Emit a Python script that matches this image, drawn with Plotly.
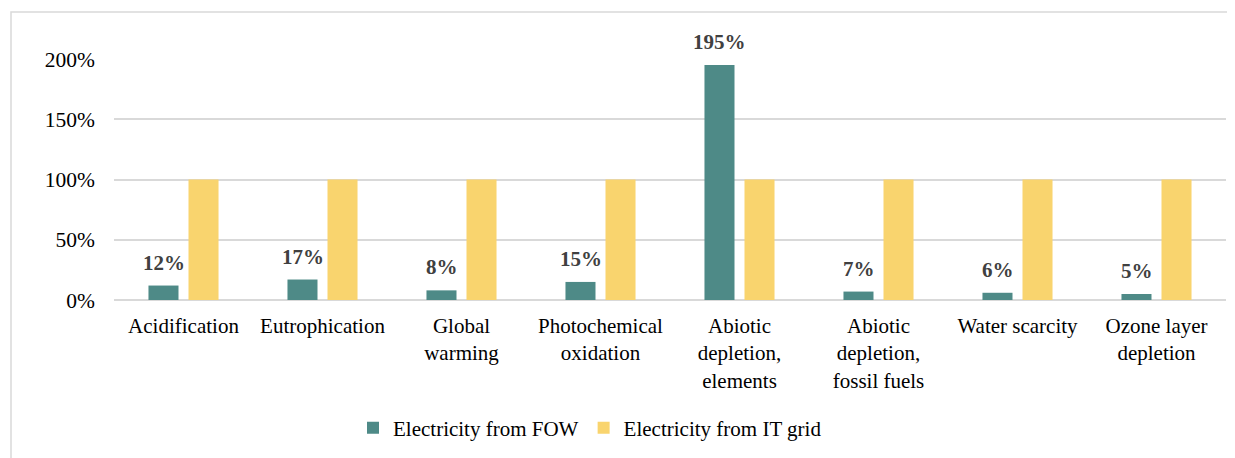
import plotly.graph_objects as go

categories = ["Acidification", "Eutrophication", "Global<br>warming", "Photochemical<br>oxidation",
              "Abiotic<br>depletion,<br>elements", "Abiotic<br>depletion,<br>fossil fuels",
              "Water scarcity", "Ozone layer<br>depletion"]
fow_values = [12, 17, 8, 15, 195, 7, 6, 5]
grid_values = [100, 100, 100, 100, 100, 100, 100, 100]
series_names = ["Electricity from FOW", "Electricity from IT grid"]
y_ticks = [0, 50, 100, 150, 200]

TEAL = "#4E8A87"
YELLOW = "#F9D46E"
FONT = "Liberation Serif"

fig = go.Figure()
fig.add_trace(go.Bar(x=categories, y=fow_values, name=series_names[0],
                     marker=dict(color=TEAL, line=dict(width=0))))
fig.add_trace(go.Bar(x=categories, y=grid_values, name=series_names[1],
                     marker=dict(color=YELLOW, line=dict(width=0))))

for c, v in zip(categories, fow_values):
    fig.add_annotation(x=c, y=v, xref="x", yref="y", text=f"<b>{v}%</b>",
                       showarrow=False, yanchor="bottom", xshift=-20, yshift=9,
                       font=dict(family=FONT, size=21, color="#404040"))

# the page body has an 8px margin, so the figure starts at (8, 8) in the window
OFF = 8
W, H = 1235 - OFF, 458 - OFF
L, T = 114 - OFF, 59 - OFF
R = W - (1226 - OFF)
B = H - (300 - OFF)
pw, ph = W - L - R, H - T - B

def px_x(p):
    return (p - OFF - L) / pw

def px_y(p):
    return (300 - p) / ph

fig.add_shape(type="rect", xref="paper", yref="paper",
              x0=px_x(11), x1=px_x(1245), y0=px_y(470), y1=px_y(12),
              line=dict(color="#D9D9D9", width=1.5), fillcolor="rgba(0,0,0,0)", layer="below")

fig.update_layout(
    width=W, height=H,
    margin=dict(l=L, r=R, t=T, b=B, autoexpand=False),
    paper_bgcolor="white", plot_bgcolor="white",
    barmode="group", bargap=0.424, bargroupgap=0.25,
    font=dict(family=FONT, size=21, color="#000000"),
    showlegend=True,
    legend=dict(orientation="h", x=px_x(590), xanchor="center", y=px_y(428), yanchor="middle",
                font=dict(family=FONT, size=21, color="#000000"), itemwidth=30,
                bgcolor="rgba(0,0,0,0)"),
    xaxis=dict(showgrid=False, showline=False, ticks="", tickfont=dict(family=FONT, size=21),
               tickangle=0, ticklabelstandoff=11),
    yaxis=dict(range=[0, 200], tickvals=y_ticks, ticktext=[f"{t}%" for t in y_ticks],
               showgrid=True, gridcolor="#D9D9D9", gridwidth=1.5,
               zeroline=True, zerolinecolor="#D9D9D9", zerolinewidth=1.5,
               showline=False, ticks="", ticklabelstandoff=18,
               tickfont=dict(family=FONT, size=21.5)),
)

fig.write_html("out.html")
